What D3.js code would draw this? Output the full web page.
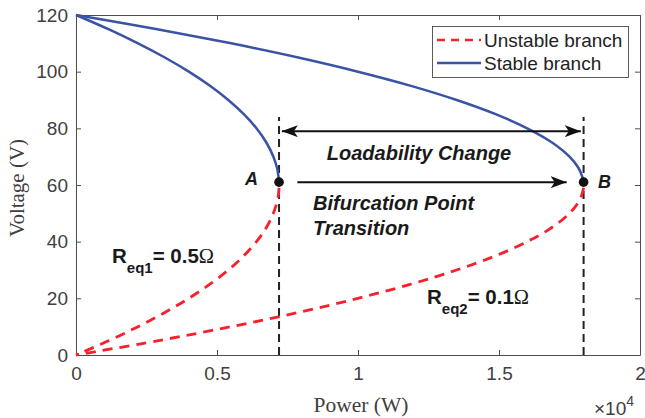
<!DOCTYPE html>
<html>
<head>
<meta charset="utf-8">
<script src="https://cdn.jsdelivr.net/npm/d3@7"></script>
<style>
  body { margin: 0; background: #fff; }
  svg { display: block; }
  .tick text { font-family: "Liberation Sans", Arial, sans-serif; font-size: 19px; fill: #404040; }
</style>
</head>
<body>
<svg id="chart" width="645" height="418"></svg>
<script>
// stable branch voltages (shared by both curves)
const stableV = [120, 115, 110, 105, 100, 95, 90, 85, 80, 75, 70, 66, 63, 61];
const stableP1 = [0, 1150, 2200, 3150, 4000, 4750, 5400, 5950, 6400, 6750, 7000, 7130, 7180, 7200];
const stableP2 = [0, 2880, 5500, 7880, 10000, 11880, 13500, 14880, 16000, 16880, 17500, 17820, 17950, 18000];

// unstable branch voltages
const unstableV = [59, 56, 52, 48, 44, 40, 35, 30, 25, 20, 15, 10, 5, 0];
const unstableP1 = [7200, 7170, 7070, 6910, 6690, 6400, 5950, 5400, 4750, 4000, 3150, 2200, 1150, 0];
const unstableP2 = [18000, 17920, 17680, 17280, 16720, 16000, 14880, 13500, 11880, 10000, 7880, 5500, 2880, 0];

const bifurcation = [{ name: 'A', p: 7200, v: 61 }, { name: 'B', p: 18000, v: 61 }];
const xTicks = [0, 5000, 10000, 15000, 20000];
const xTickLabels = ['0', '0.5', '1', '1.5', '2'];
const yTicks = [0, 20, 40, 60, 80, 100, 120];

const margin = { top: 15, right: 5, bottom: 63, left: 76 };
const svg = d3.select('#chart');
const width = 640 - margin.left;
const height = 355 - margin.top;

const x = d3.scaleLinear().domain([0, 20000]).range([0, width]);
const y = d3.scaleLinear().domain([0, 120]).range([height, 0]);

const blue = '#3a53a4';
const red = '#f5212c';
const axisColor = '#4d4d4d';

const g = svg.append('g').attr('transform', `translate(${margin.left},${margin.top})`);

// axes with ticks pointing inwards, plus box
const xAxis = d3.axisBottom(x).tickValues(xTicks).tickFormat((d, i) => xTickLabels[i]).tickSizeInner(-5).tickSizeOuter(0).tickPadding(12);
const yAxis = d3.axisLeft(y).tickValues(yTicks).tickSizeInner(-5).tickSizeOuter(0).tickPadding(8);
const xTop = d3.axisTop(x).tickValues(xTicks).tickFormat('').tickSizeInner(-5).tickSizeOuter(0);
const yRight = d3.axisRight(y).tickValues(yTicks).tickFormat('').tickSizeInner(-5).tickSizeOuter(0);

[
  g.append('g').attr('transform', `translate(0,${height})`).call(xAxis),
  g.append('g').call(yAxis),
  g.append('g').call(xTop),
  g.append('g').attr('transform', `translate(${width},0)`).call(yRight),
].forEach((a) => {
  a.selectAll('path,line').attr('stroke', axisColor).attr('stroke-width', 1);
});

// dashed verticals at the bifurcation points
g.selectAll('.vline')
  .data(bifurcation)
  .join('line')
  .attr('x1', (d) => x(d.p))
  .attr('x2', (d) => x(d.p))
  .attr('y1', y(0))
  .attr('y2', y(84))
  .attr('stroke', '#222')
  .attr('stroke-width', 2)
  .attr('stroke-dasharray', '8,5');

const line = d3.line().x((d) => x(d[0])).y((d) => y(d[1])).curve(d3.curveCatmullRom);
const zip = (ps, vs) => ps.map((p, i) => [p, vs[i]]);

[zip(stableP1, stableV), zip(stableP2, stableV)].forEach((pts) => {
  g.append('path').attr('d', line(pts)).attr('fill', 'none').attr('stroke', blue).attr('stroke-width', 2.5);
});
[zip(unstableP1, unstableV), zip(unstableP2, unstableV)].forEach((pts) => {
  g.append('path').attr('d', line(pts)).attr('fill', 'none').attr('stroke', red)
    .attr('stroke-width', 2.8).attr('stroke-dasharray', '10,7');
});

// arrows
const defs = svg.append('defs');
defs.append('marker')
  .attr('id', 'head')
  .attr('viewBox', '0 0 16 12')
  .attr('refX', 16).attr('refY', 6)
  .attr('markerWidth', 16).attr('markerHeight', 12)
  .attr('markerUnits', 'userSpaceOnUse')
  .attr('orient', 'auto-start-reverse')
  .append('path').attr('d', 'M0,0 L16,6 L0,12 L4,6 Z').attr('fill', '#111');

g.append('line')
  .attr('x1', x(7300)).attr('x2', x(17900))
  .attr('y1', y(79)).attr('y2', y(79))
  .attr('stroke', '#111').attr('stroke-width', 2)
  .attr('marker-start', 'url(#head)').attr('marker-end', 'url(#head)');
g.append('line')
  .attr('x1', x(7850)).attr('x2', x(17400))
  .attr('y1', y(61)).attr('y2', y(61))
  .attr('stroke', '#111').attr('stroke-width', 2)
  .attr('marker-end', 'url(#head)');

// bifurcation dots and labels
g.selectAll('.dot')
  .data(bifurcation)
  .join('circle')
  .attr('cx', (d) => x(d.p)).attr('cy', (d) => y(d.v)).attr('r', 4.8).attr('fill', '#111');

const annot = { 'font-family': '"Liberation Sans", Arial, sans-serif', 'font-weight': 'bold', 'font-style': 'italic', fill: '#1a1a1a' };
const addText = (xp, yp, txt, size, anchor) => {
  const t = svg.append('text').attr('x', xp).attr('y', yp).attr('font-size', size).attr('text-anchor', anchor || 'start').text(txt);
  Object.entries(annot).forEach(([k, v]) => t.attr(k, v));
  return t;
};
addText(245, 185, 'A', 18);
addText(598, 188, 'B', 18);
addText(419, 160, 'Loadability Change', 20, 'middle');
addText(313, 210, 'Bifurcation Point', 20);
addText(313, 235, 'Transition', 20);

// resistance labels
const resLabel = (xp, yp, sub, val) => {
  const t = svg.append('text').attr('x', xp).attr('y', yp)
    .attr('font-family', '"Liberation Sans", Arial, sans-serif').attr('font-weight', 'bold')
    .attr('font-size', 20.5).attr('fill', '#1a1a1a');
  t.append('tspan').text('R');
  t.append('tspan').attr('dy', 10).attr('font-size', 15).text(sub);
  t.append('tspan').attr('dy', -10).text('= ' + val);
  t.append('tspan').attr('font-family', '"Liberation Serif", serif').attr('font-weight', 'normal').text('Ω');
};
resLabel(112, 263, 'eq1', '0.5');
resLabel(427, 304, 'eq2', '0.1');

// legend
const legend = svg.append('g');
legend.append('rect').attr('x', 432.5).attr('y', 26.5).attr('width', 196).attr('height', 51)
  .attr('fill', '#fff').attr('stroke', '#333').attr('stroke-width', 0.8);
const legendItems = [
  { label: 'Unstable branch', color: red, dash: '8,6' },
  { label: 'Stable branch', color: blue, dash: null },
];
legendItems.forEach((d, i) => {
  const yy = 40 + i * 23;
  legend.append('line').attr('x1', 437).attr('x2', 481).attr('y1', yy).attr('y2', yy)
    .attr('stroke', d.color).attr('stroke-width', 2.5).attr('stroke-dasharray', d.dash);
  legend.append('text').attr('x', 484).attr('y', yy + 7)
    .attr('font-family', '"Liberation Sans", Arial, sans-serif').attr('font-size', 19).attr('fill', '#222')
    .text(d.label);
});

// axis titles
svg.append('text').attr('x', 361).attr('y', 412).attr('text-anchor', 'middle')
  .attr('font-family', '"Liberation Serif", "Times New Roman", serif').attr('font-size', 21.5).attr('fill', '#404040')
  .text('Power (W)');
svg.append('text').attr('transform', 'translate(24,188) rotate(-90)').attr('text-anchor', 'middle')
  .attr('font-family', '"Liberation Serif", "Times New Roman", serif').attr('font-size', 21).attr('fill', '#404040')
  .text('Voltage (V)');
const exp = svg.append('text').attr('x', 594).attr('y', 415)
  .attr('font-family', '"Liberation Sans", Arial, sans-serif').attr('font-size', 19).attr('fill', '#404040');
exp.append('tspan').text('×10');
exp.append('tspan').attr('dy', -9).attr('font-size', 14).text('4');
</script>
</body>
</html>
